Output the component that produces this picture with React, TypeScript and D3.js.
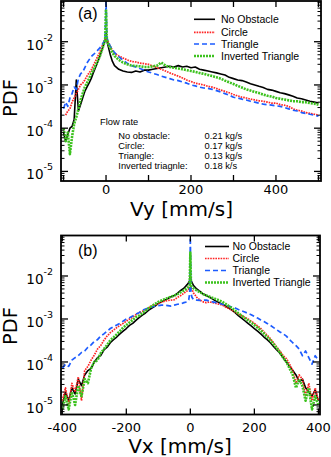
import React from 'react';
import * as d3 from 'd3';

// ---------- data ----------
const SERIES_NAMES = ['No Obstacle', 'Circle', 'Triangle', 'Inverted Triangle'];

// Panel (a): Vy [mm/s]
const VY = [-100, -95, -90, -85, -80, -75, -70, -65, -60, -55, -50, -45, -40, -35, -30, -25, -20, -15, -10, -5, -2, 0, 2, 5, 10, 15, 20,
  30, 40, 50, 60, 70, 80, 90, 100, 110, 120, 130, 140, 150, 160, 170, 180, 190, 200, 210, 220, 230, 240, 250, 260, 270, 280, 290, 300,
  310, 320, 330, 340, 350, 360, 370, 380, 390, 400, 410, 420, 430, 440, 450, 460, 470, 480, 490, 500];

const VY_NO_OBSTACLE = [7.9e-5, 5.0e-5, 7.1e-5, 1.0e-4, 1.1e-4, 1.6e-4, 1.3e-3, 2.5e-4, 3.5e-4, 5.0e-4, 7.1e-4, 8.9e-4, 1.1e-3, 1.4e-3, 1.9e-3, 2.5e-3, 3.3e-3, 4.5e-3, 6.3e-3, 8.9e-3,
  1.07e-2, 1.6e-2, 1.07e-2, 7.9e-3, 5.0e-3, 3.5e-3, 2.8e-3,
  2.3e-3, 2.1e-3, 2.0e-3, 1.95e-3, 2.1e-3, 2.0e-3, 2.2e-3, 2.2e-3, 2.3e-3, 2.4e-3, 2.5e-3, 2.6e-3, 2.7e-3, 2.6e-3, 2.8e-3, 2.6e-3, 2.7e-3, 2.5e-3,
  2.6e-3, 2.3e-3, 2.2e-3, 2.1e-3, 2.0e-3, 1.9e-3, 1.8e-3, 1.7e-3, 1.5e-3, 1.4e-3, 1.3e-3, 1.26e-3, 1.17e-3, 1.07e-3, 1.0e-3,
  9.3e-4, 8.7e-4, 7.9e-4, 7.6e-4, 7.1e-4, 6.6e-4, 6.3e-4, 5.9e-4, 5.5e-4, 5.0e-4, 4.8e-4, 4.5e-4, 4.2e-4, 4.0e-4, 3.8e-4];

const VY_CIRCLE = [null, 2.0e-4, 2.5e-4, 2.8e-4, 4.0e-4, 5.0e-4, 6.3e-4, 7.9e-4, 1.0e-3, 1.1e-3, 1.3e-3, 1.6e-3, 1.9e-3, 2.2e-3, 2.8e-3, 3.5e-3, 4.5e-3, 5.6e-3, 7.6e-3, 1.0e-2,
  1.1e-2, 1.4e-2, 1.1e-2, 1.0e-2, 7.9e-3, 6.3e-3, 5.4e-3,
  4.7e-3, 4.2e-3, 3.8e-3, 3.5e-3, 3.4e-3, 3.2e-3, 3.1e-3, 3.0e-3, 2.75e-3, 2.5e-3, 2.3e-3, 2.1e-3, 1.9e-3, 1.74e-3, 1.6e-3, 1.45e-3, 1.3e-3, 1.2e-3,
  1.1e-3, 1.05e-3, 1.0e-3, 9.3e-4, 8.9e-4, 8.3e-4, 7.6e-4, 7.1e-4, 6.6e-4, 6.0e-4, 5.6e-4, 5.2e-4, 5.0e-4, 4.7e-4, 4.5e-4,
  4.3e-4, 4.2e-4, 4.0e-4, 3.8e-4, 3.8e-4, 3.5e-4, 3.4e-4, 3.2e-4, 2.8e-4, 2.6e-4, 2.5e-4, 2.3e-4, 2.2e-4, 2.1e-4, 2.0e-4];

const VY_TRIANGLE = [2.8e-4, 4.0e-4, 3.2e-4, 5.0e-4, 6.3e-4, 8.9e-4, 7.9e-4, 1.4e-3, 1.8e-3, 2.0e-3, 2.5e-3, 3.2e-3, 3.8e-3, 4.5e-3, 5.0e-3, 5.6e-3, 6.3e-3, 7.1e-3, 8.3e-3, 1.0e-2,
  1.26e-2, 8.9e-2, 1.26e-2, 1.0e-2, 7.9e-3, 6.6e-3, 5.6e-3,
  4.5e-3, 3.7e-3, 3.2e-3, 2.8e-3, 2.6e-3, 2.4e-3, 2.2e-3, 2.0e-3, 1.86e-3, 1.74e-3, 1.6e-3, 1.5e-3, 1.4e-3, 1.3e-3, 1.26e-3, 1.17e-3, 1.1e-3, 1.0e-3,
  9.5e-4, 8.9e-4, 8.5e-4, 8.3e-4, 7.9e-4, 7.4e-4, 6.9e-4, 6.3e-4, 5.8e-4, 5.2e-4, 5.0e-4, 4.7e-4, 4.5e-4, 4.2e-4, 4.0e-4,
  3.8e-4, 3.6e-4, 3.5e-4, 3.4e-4, 3.3e-4, 3.2e-4, 3.0e-4, 2.8e-4, 2.6e-4, 2.5e-4, 2.3e-4, 2.2e-4, 2.1e-4, 2.0e-4, 1.9e-4];

const VY_INVERTED = [1.0e-4, 5.0e-5, 7.9e-5, 2.5e-5, 6.3e-5, 1.26e-4, 1.8e-4, 2.8e-4, 4.5e-4, 6.3e-4, 8.9e-4, 1.1e-3, 1.4e-3, 1.8e-3, 2.2e-3, 2.8e-3, 3.5e-3, 4.5e-3, 6.3e-3, 8.9e-3,
  1.1e-2, 5.6e-2, 1.1e-2, 8.9e-3, 7.1e-3, 5.6e-3, 4.7e-3,
  3.8e-3, 3.3e-3, 3.0e-3, 2.8e-3, 2.75e-3, 2.7e-3, 2.6e-3, 2.6e-3, 2.7e-3, 2.8e-3, 3.3e-3, 2.8e-3, 2.6e-3, 2.5e-3, 2.4e-3, 2.3e-3, 2.2e-3, 2.1e-3,
  2.0e-3, 1.9e-3, 1.8e-3, 1.7e-3, 1.6e-3, 1.5e-3, 1.4e-3, 1.26e-3, 1.15e-3, 1.05e-3, 9.5e-4, 8.7e-4, 7.9e-4, 7.4e-4, 6.9e-4,
  6.5e-4, 6.0e-4, 5.6e-4, 5.4e-4, 5.0e-4, 4.8e-4, 4.6e-4, 4.4e-4, 4.2e-4, 4.2e-4, 4.0e-4, 4.0e-4, 3.8e-4, 3.7e-4, 3.5e-4];

// Panel (b): Vx [mm/s]
const VX = [-400, -390, -380, -370, -360, -350, -340, -330, -320, -310, -300, -290, -280, -270, -260, -250, -240, -230, -220, -210,
  -200, -190, -180, -170, -160, -150, -140, -130, -120, -110, -100, -90, -80, -70, -60, -50, -40, -30, -20, -10,
  -5, -2, 0, 2, 5,
  10, 20, 30, 40, 50, 60, 70, 80, 90, 100, 110, 120, 130, 140, 150, 160, 170, 180, 190, 200,
  210, 220, 230, 240, 250, 260, 270, 280, 290, 300, 310, 320, 330, 340, 350, 360, 370, 380, 390, 400];

const VX_NO_OBSTACLE = [1.0e-5, 2.0e-5, 1.26e-5, 2.5e-5, 1.8e-5, 4.0e-5, 2.8e-5, 5.0e-5, 6.3e-5, 7.1e-5, 1.0e-4, 1.26e-4, 1.4e-4, 1.9e-4, 2.2e-4, 2.8e-4, 3.3e-4, 3.8e-4, 4.5e-4, 5.2e-4,
  6.0e-4, 7.1e-4, 7.9e-4, 9.3e-4, 1.07e-3, 1.23e-3, 1.38e-3, 1.6e-3, 1.8e-3, 2.0e-3, 2.3e-3, 2.5e-3, 2.75e-3, 3.0e-3, 3.3e-3, 3.5e-3, 4.0e-3, 4.6e-3, 5.2e-3, 6.3e-3,
  7.1e-3, 7.9e-3, 1.0e-2, 7.9e-3, 7.1e-3,
  6.0e-3, 5.0e-3, 4.4e-3, 3.8e-3, 3.5e-3, 3.2e-3, 2.9e-3, 2.6e-3, 2.4e-3, 2.2e-3, 2.0e-3, 1.8e-3, 1.6e-3, 1.4e-3, 1.2e-3, 1.05e-3, 9.1e-4, 7.9e-4, 6.9e-4, 6.0e-4,
  5.2e-4, 4.5e-4, 3.8e-4, 3.3e-4, 2.8e-4, 2.3e-4, 1.9e-4, 1.6e-4, 1.26e-4, 1.0e-4, 7.9e-5, 6.3e-5, 5.0e-5, 3.5e-5, 4.0e-5, 2.5e-5, 2.0e-5, 1.6e-5, 2.2e-5, 1.26e-5];

const VX_CIRCLE = [1.26e-5, 2.5e-5, 1.0e-5, 3.2e-5, 2.0e-5, 4.5e-5, 1.26e-5, 6.3e-5, 7.9e-5, 1.1e-4, 1.45e-4, 2.0e-4, 2.4e-4, 3.2e-4, 4.0e-4, 4.8e-4, 5.5e-4, 6.3e-4, 7.1e-4, 7.9e-4,
  8.9e-4, 1.0e-3, 1.1e-3, 1.26e-3, 1.4e-3, 1.5e-3, 1.66e-3, 1.8e-3, 2.0e-3, 2.1e-3, 2.3e-3, 2.45e-3, 2.6e-3, 2.7e-3, 2.75e-3, 2.8e-3, 3.2e-3, 3.5e-3, 4.0e-3, 4.5e-3,
  5.0e-3, 5.2e-3, 5.6e-3, 5.2e-3, 5.0e-3,
  4.0e-3, 3.2e-3, 2.75e-3, 2.5e-3, 2.4e-3, 2.5e-3, 2.4e-3, 2.3e-3, 2.2e-3, 2.1e-3, 1.9e-3, 1.74e-3, 1.6e-3, 1.45e-3, 1.3e-3, 1.2e-3, 1.1e-3, 1.0e-3, 8.9e-4, 7.9e-4,
  6.9e-4, 6.0e-4, 5.0e-4, 4.2e-4, 3.5e-4, 2.8e-4, 2.2e-4, 1.8e-4, 1.4e-4, 1.2e-4, 8.9e-5, 6.3e-5, 3.2e-5, 5.0e-5, 4.0e-5, 1.6e-5, 3.2e-5, 1.26e-5, 2.5e-5, 1.26e-5];

const VX_TRIANGLE = [7.1e-5, 8.9e-5, 7.9e-5, 1.1e-4, 1.26e-4, 1.4e-4, 1.66e-4, 1.8e-4, 2.2e-4, 2.5e-4, 3.0e-4, 3.3e-4, 4.0e-4, 4.5e-4, 5.2e-4, 6.0e-4, 6.6e-4, 7.2e-4, 7.9e-4, 8.9e-4,
  1.0e-3, 1.07e-3, 1.17e-3, 1.3e-3, 1.4e-3, 1.6e-3, 1.7e-3, 1.8e-3, 1.9e-3, 2.0e-3, 2.05e-3, 2.1e-3, 2.1e-3, 2.05e-3, 2.0e-3, 2.1e-3, 2.2e-3, 2.24e-3, 2.4e-3, 2.5e-3,
  2.8e-3, 4.0e-3, 7.9e-2, 4.0e-3, 3.2e-3,
  2.8e-3, 2.75e-3, 2.7e-3, 2.75e-3, 2.75e-3, 2.6e-3, 2.5e-3, 2.4e-3, 2.3e-3, 2.2e-3, 2.1e-3, 2.0e-3, 1.9e-3, 1.8e-3, 1.66e-3, 1.55e-3, 1.45e-3, 1.35e-3, 1.26e-3, 1.15e-3,
  1.05e-3, 9.5e-4, 8.7e-4, 7.9e-4, 7.1e-4, 6.3e-4, 5.6e-4, 5.0e-4, 4.5e-4, 4.0e-4, 3.3e-4, 2.8e-4, 2.4e-4, 2.0e-4, 1.4e-4, 1.8e-4, 1.26e-4, 8.9e-5, 1.4e-4, 1.1e-4];

const VX_INVERTED = [7.9e-6, 1.6e-5, 7.9e-6, 2.0e-5, 1.0e-5, 2.8e-5, 1.6e-5, 4.0e-5, 3.2e-5, 7.1e-5, 1.0e-4, 1.1e-4, 1.6e-4, 2.0e-4, 2.5e-4, 3.2e-4, 3.7e-4, 4.4e-4, 5.2e-4, 6.3e-4,
  7.2e-4, 8.3e-4, 9.5e-4, 1.1e-3, 1.2e-3, 1.35e-3, 1.55e-3, 1.8e-3, 2.0e-3, 2.24e-3, 2.5e-3, 2.7e-3, 2.9e-3, 3.1e-3, 3.3e-3, 3.5e-3, 3.8e-3, 4.2e-3, 4.6e-3, 5.2e-3,
  5.6e-3, 6.3e-3, 3.5e-2, 6.3e-3, 5.6e-3,
  5.2e-3, 4.6e-3, 4.2e-3, 3.8e-3, 3.5e-3, 3.3e-3, 3.1e-3, 2.9e-3, 2.7e-3, 2.5e-3, 2.24e-3, 2.0e-3, 1.8e-3, 1.55e-3, 1.35e-3, 1.2e-3, 1.05e-3, 9.3e-4, 8.3e-4, 7.2e-4,
  6.3e-4, 5.4e-4, 4.6e-4, 3.8e-4, 3.2e-4, 2.6e-4, 2.1e-4, 1.66e-4, 1.26e-4, 1.0e-4, 7.1e-5, 5.0e-5, 2.5e-5, 4.0e-5, 2.8e-5, 1.26e-5, 2.5e-5, 7.9e-6, 1.6e-5, 1.0e-5];

// tick values / labels
const Y_TICK_EXPONENTS = [-2, -3, -4, -5];
const VY_TICKS = [-100, 0, 100, 200, 300, 400, 500];
const VY_TICK_LABELS = [0, 200, 400];
const VX_TICKS = [-400, -200, 0, 200, 400];
const VX_TICK_LABELS = [-400, -200, 0, 200, 400];

const FLOW_TITLE = 'Flow rate';
const FLOW_NAMES = ['No obstacle:', 'Circle:', 'Triangle:', 'Inverted triagnle:'];
const FLOW_VALUES = ['0.21 kg/s', '0.17 kg/s', '0.13 kg/s', '0.18 k/s'];

// ---------- styling ----------
const Y_DOMAIN: [number, number] = [6e-6, 0.0875];
const STYLES = [
  { color: '#000000', width: 1.6, dash: undefined as string | undefined },
  { color: '#ff2424', width: 1.7, dash: '1.6 1' },
  { color: '#1d5cff', width: 1.7, dash: '5 3' },
  { color: '#3cc21e', width: 2.6, dash: '2 1' },
];
const AX_FONT = '"DejaVu Sans", Verdana, sans-serif';
const LEG_FONT = '"Liberation Sans", Arial, Helvetica, sans-serif';

type PanelProps = {
  id: string;
  left: number; right: number; top: number; bottom: number;
  xDomain: [number, number];
  xs: number[];
  series: (number | null)[][];
  xTicks: number[];
  xLabels: number[];
  xLabelBase: number;
  xTitle: string;
  xTitleX: number;
  xTitleBase: number;
  pdfY: number;
  tag: string;
  tagBase: number;
  legend: { x1: number; x2: number; tx: number; rows: number[] };
  children?: React.ReactNode;
};

function Panel(p: PanelProps) {
  const x = d3.scaleLinear().domain(p.xDomain).range([p.left, p.right]);
  const y = d3.scaleLog().domain(Y_DOMAIN).range([p.bottom, p.top]);
  const minor: number[] = [];
  for (let e = -6; e <= -1; e++) {
    for (let m = 2; m <= 9; m++) {
      const v = m * Math.pow(10, e);
      if (v > Y_DOMAIN[0] && v < Y_DOMAIN[1]) minor.push(v);
    }
  }
  const line = d3.line<number | null>()
    .defined((d) => d != null)
    .x((_, i) => x(p.xs[i]))
    .y((d) => y(d as number));

  const majLen = 7, minLen = 3.5, xLen = 6;
  return (
    <g>
      <defs>
        <clipPath id={p.id}>
          <rect x={p.left} y={p.top} width={p.right - p.left} height={p.bottom - p.top} />
        </clipPath>
      </defs>
      <g clipPath={`url(#${p.id})`}>
        {p.series.map((vals, si) => (
          <path key={si} d={line(vals) || ''} fill="none" stroke={STYLES[si].color}
            strokeWidth={STYLES[si].width} strokeDasharray={STYLES[si].dash} strokeLinejoin="round" />
        ))}
      </g>
      {Y_TICK_EXPONENTS.map((e) => {
        const v = Math.pow(10, e);
        const yy = y(v);
        return (
          <g key={e}>
            <line x1={p.left} x2={p.left + majLen} y1={yy} y2={yy} stroke="#000" strokeWidth={1.3} />
            <line x1={p.right} x2={p.right - majLen} y1={yy} y2={yy} stroke="#000" strokeWidth={1.3} />
            <text x={53} y={yy + 8} textAnchor="end" fontFamily={AX_FONT} fontSize={13.5}>
              10<tspan dy={-9} fontSize={9.5}>{String(e)}</tspan>
            </text>
          </g>
        );
      })}
      {minor.map((v, i) => (
        <g key={i}>
          <line x1={p.left} x2={p.left + minLen} y1={y(v)} y2={y(v)} stroke="#000" strokeWidth={1} />
          <line x1={p.right} x2={p.right - minLen} y1={y(v)} y2={y(v)} stroke="#000" strokeWidth={1} />
        </g>
      ))}
      {p.xTicks.map((t) => (
        <g key={t}>
          <line x1={x(t)} x2={x(t)} y1={p.bottom} y2={p.bottom - xLen} stroke="#000" strokeWidth={1.3} />
          <line x1={x(t)} x2={x(t)} y1={p.top} y2={p.top + xLen} stroke="#000" strokeWidth={1.3} />
        </g>
      ))}
      {p.xLabels.map((t) => (
        <text key={t} x={x(t)} y={p.xLabelBase} textAnchor="middle" fontFamily={AX_FONT} fontSize={13}>{String(t)}</text>
      ))}
      <rect x={p.left} y={p.top} width={p.right - p.left} height={p.bottom - p.top} fill="none" stroke="#000" strokeWidth={1.8} />
      <text x={p.xTitleX} y={p.xTitleBase} textAnchor="middle" fontFamily={AX_FONT} fontSize={20}>{p.xTitle}</text>
      <text transform={`translate(17,${p.pdfY}) rotate(-90)`} textAnchor="middle" fontFamily={AX_FONT} fontSize={19.5}>PDF</text>
      <text x={78} y={p.tagBase} fontFamily={LEG_FONT} fontSize={16}>{p.tag}</text>
      {SERIES_NAMES.map((n, i) => (
        <g key={n}>
          <line x1={p.legend.x1} x2={p.legend.x2} y1={p.legend.rows[i]} y2={p.legend.rows[i]}
            stroke={STYLES[i].color} strokeWidth={STYLES[i].width} strokeDasharray={STYLES[i].dash} />
          <text x={p.legend.tx} y={p.legend.rows[i] + 3.8} fontFamily={LEG_FONT} fontSize={10.5}>{n}</text>
        </g>
      ))}
      {p.children}
    </g>
  );
}

export default function App() {
  const topSeries = [VY_NO_OBSTACLE, VY_CIRCLE, VY_TRIANGLE, VY_INVERTED];
  const botSeries = [VX_NO_OBSTACLE, VX_CIRCLE, VX_TRIANGLE, VX_INVERTED];
  const flowRows = [138.5, 148.5, 158.5, 168.5];
  return (
    <svg width={331} height={457} style={{ position: 'absolute', left: 0, top: 0, background: '#fff' }}>
      <rect x={0} y={0} width={331} height={457} fill="#fff" />
      <Panel id="clipA" left={61} right={321} top={1} bottom={181} xDomain={[-106, 506]} xs={VY}
        series={topSeries} xTicks={VY_TICKS} xLabels={VY_TICK_LABELS} xLabelBase={193.8}
        xTitle="Vy [mm/s]" xTitleX={181.5} xTitleBase={215.8} pdfY={98} tag="(a)" tagBase={19}
        legend={{ x1: 194, x2: 215, tx: 221, rows: [19.3, 32.3, 44, 56] }}>
        <g fontFamily={LEG_FONT} fontSize={9.3}>
          <text x={100} y={125}>{FLOW_TITLE}</text>
          {FLOW_NAMES.map((n, i) => (
            <g key={n}>
              <text x={118.3} y={flowRows[i]}>{n}</text>
              <text x={204.5} y={flowRows[i]}>{FLOW_VALUES[i]}</text>
            </g>
          ))}
        </g>
      </Panel>
      <Panel id="clipB" left={61} right={320} top={235.5} bottom={414.5} xDomain={[-404, 405]} xs={VX}
        series={botSeries} xTicks={VX_TICKS} xLabels={VX_TICK_LABELS} xLabelBase={431.5}
        xTitle="Vx [mm/s]" xTitleX={180} xTitleBase={452.5} pdfY={326} tag="(b)" tagBase={256}
        legend={{ x1: 205, x2: 229, tx: 232.5, rows: [246.5, 258.5, 270.5, 282.5] }} />
    </svg>
  );
}
